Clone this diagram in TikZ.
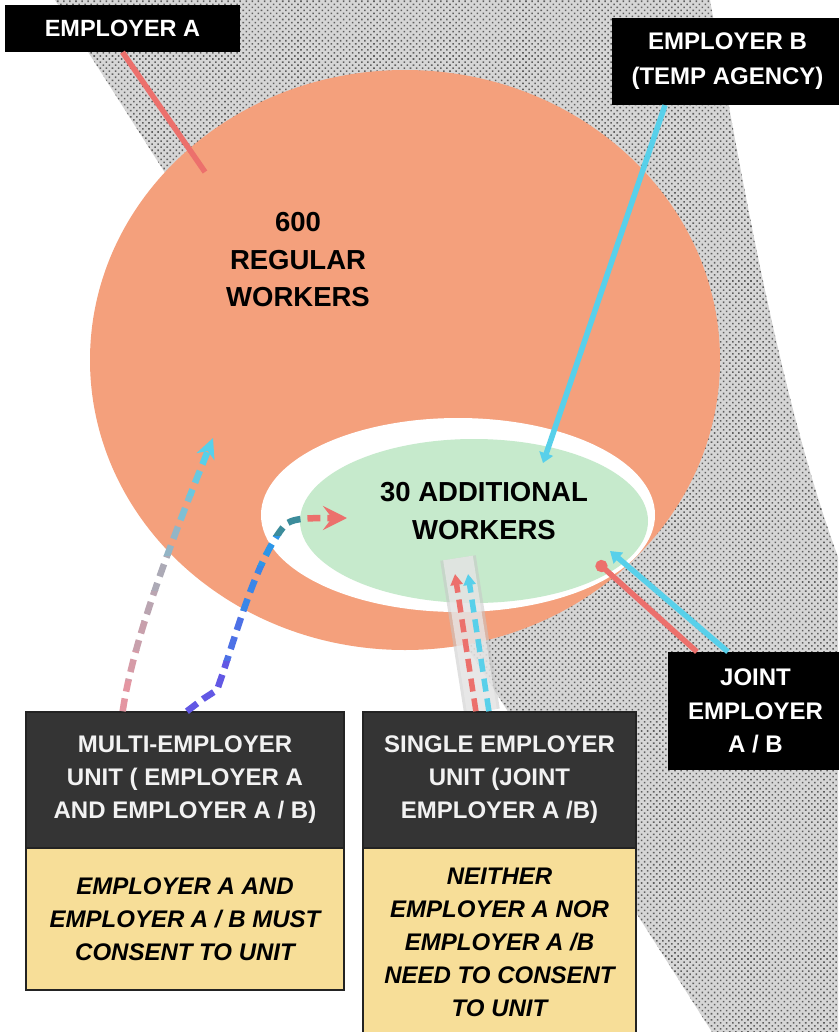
\documentclass[tikz,border=0pt]{standalone}
\usepackage{fontspec}
\setmainfont{Liberation Sans}
\usetikzlibrary{arrows.meta,patterns.meta,calc}
\definecolor{salmon}{RGB}{244,160,124}
\definecolor{mint}{RGB}{198,234,204}
\definecolor{coral}{RGB}{236,112,108}
\definecolor{sky}{RGB}{88,208,234}
\definecolor{darkhead}{RGB}{52,52,52}
\definecolor{boxline}{RGB}{35,35,35}
\definecolor{cream}{RGB}{247,222,152}
\definecolor{offwhite}{RGB}{242,242,242}
\definecolor{mpink}{RGB}{228,150,162}
\definecolor{mgray}{RGB}{172,170,182}
\definecolor{violet}{RGB}{98,88,228}
\definecolor{mblue}{RGB}{45,150,232}
\definecolor{mteal}{RGB}{60,140,155}
\definecolor{stipplebase}{RGB}{214,214,214}
\definecolor{stippledot}{RGB}{95,95,95}
\pgfdeclarelayer{bg}
\pgfsetlayers{bg,main}
\tikzset{
  blackbox/.style={fill=black, text=white, inner sep=0pt, align=center,
    font=\fontsize{24}{35}\selectfont\bfseries},
  headbox/.style={fill=darkhead, draw=boxline, line width=1.5pt, text=offwhite,
    inner sep=0pt, align=center, minimum height=136pt,
    font=\fontsize{24}{33}\selectfont\bfseries},
  bodybox/.style={fill=cream, draw=boxline, line width=1.5pt, text=black,
    inner sep=0pt, align=center,
    font=\fontsize{24}{33}\selectfont\bfseries\itshape},
  bigtext/.style={align=center, inner sep=0pt, text=black,
    font=\fontsize{27.5}{37.5}\selectfont\bfseries},
  solidln/.style={line width=5.5pt},
  dashln/.style={line width=6.5pt, dash pattern=on 13pt off 7pt},
  skytip/.style={-{Stealth[length=20pt,width=19pt,inset=6pt]}},
  pinktip/.style={-{Stealth[length=24pt,width=24pt,inset=9pt]}},
}
\begin{document}
\begin{tikzpicture}[x=1pt,y=-1pt]
\useasboundingbox (0,0) rectangle (838,1032);

% ---------- boxes (main layer) ----------
\node[blackbox, minimum width=235pt, minimum height=47pt,
  font=\fontsize{23.5}{30}\selectfont\bfseries] (empA) at (122.5,28.5) {EMPLOYER A};
\node[blackbox, minimum width=231pt, minimum height=87pt] (empB) at (727.5,61.5)
  {EMPLOYER B\\(TEMP AGENCY)};
\node[blackbox, minimum width=175pt, minimum height=118pt,
  font=\fontsize{24}{33.5}\selectfont\bfseries] (joint) at (755.5,711)
  {JOINT\\EMPLOYER\\A / B};

\node[headbox, minimum width=318pt] (multihead) at (185,780)
  {MULTI-EMPLOYER\\UNIT ( EMPLOYER A\\AND EMPLOYER A / B)};
\node[bodybox, minimum width=318pt, minimum height=142pt] (multibody) at (185,919)
  {EMPLOYER A AND\\EMPLOYER A / B MUST\\CONSENT TO UNIT};
\node[headbox, minimum width=273pt] (singlehead) at (499.5,780)
  {SINGLE EMPLOYER\\UNIT (JOINT\\EMPLOYER A /B)};
\node[bodybox, minimum width=273pt, minimum height=188pt] (singlebody) at (499.5,942)
  {NEITHER\\EMPLOYER A NOR\\EMPLOYER A /B\\NEED TO CONSENT\\TO UNIT};

% ---------- background layer ----------
\begin{pgfonlayer}{bg}
  \fill[white] (0,0) rectangle (838,1032);
  \fill[stipplebase] (55,0) -- (710,0) .. controls (740,170) and (780,400) .. (838,557)
     -- (838,1032) -- (712,1032) -- cycle;
  \path[pattern={Dots[radius=1.1pt,distance=4.3pt,angle=45]}, pattern color=stippledot]
     (55,0) -- (710,0) .. controls (740,170) and (780,400) .. (838,557)
     -- (838,1032) -- (712,1032) -- cycle;
  \fill[salmon] (405,360) ellipse [x radius=315pt, y radius=290pt];
  \fill[white] (458,515) ellipse [x radius=197pt, y radius=97pt];
  \fill[mint] (474,521) ellipse [x radius=174pt, y radius=82pt];
  \node[bigtext] (regular) at (298,260) {600\\REGULAR\\WORKERS};
  \node[bigtext] (additional) at (484,511) {30 ADDITIONAL\\WORKERS};
  \coordinate (sBand) at (458,558);
  \draw[line width=36pt, black!22, opacity=0.55]
     ($(singlehead.north west)!0.436!(singlehead.north east)$) -- (sBand);
  \draw[line width=30pt, black!8, opacity=0.7]
     ($(singlehead.north west)!0.436!(singlehead.north east)$) -- (sBand);
\end{pgfonlayer}

% ---------- solid connectors ----------
\coordinate (aEnd) at (205,172);
\draw[solidln, coral] (empA.south) -- (aEnd);

\coordinate (bEnd) at (543,463);
\draw[solidln, sky, -{Triangle[length=10pt,width=14pt]}]
  ($(empB.south west)!0.23!(empB.south east)$) -- (bEnd);

\coordinate (jRed) at (597,562);
\coordinate (jSky) at (610,551);
\draw[solidln, coral, -{Circle[length=12pt]}]
  ($(joint.north west)!0.166!(joint.north east)$) -- (jRed);
\draw[solidln, sky, -{Triangle[length=11pt,width=14pt]}]
  ($(joint.north west)!0.343!(joint.north east)$) -- (jSky);

% ---------- single employer dashed pair ----------
\coordinate (sRed) at (455,574);
\coordinate (sSky) at (468,574);
\draw[dashln, line width=5.5pt, coral, -{Triangle[length=11pt,width=12pt]}]
  ($(singlehead.north west)!0.414!(singlehead.north east)$) -- (sRed);
\draw[dashln, line width=5.5pt, sky, -{Triangle[length=11pt,width=12pt]}]
  ($(singlehead.north west)!0.4615!(singlehead.north east)$) -- (sSky);

% ---------- multi employer dashed curve 1 (pink -> gray -> sky) ----------
\coordinate (m1s) at ($(multihead.north west)!0.305!(multihead.north east)$);
\coordinate (m1e) at (213,438);
\foreach \ya/\yb/\col in {680/714/mpink, 650/680/mpink!75!mgray, 620/650/mpink!50!mgray,
    590/620/mpink!25!mgray, 555/590/mgray, 525/555/mgray!70!sky, 495/525/mgray!45!sky,
    465/495/mgray!20!sky, 420/465/sky}{
  \begin{scope}
    \clip (0,\ya) rectangle (838,\yb);
    \draw[dashln, color=\col, skytip] (m1s) .. controls (133,640) and (172,540) .. (m1e);
  \end{scope}
}

% ---------- multi employer dashed curve 2 (violet -> blue -> teal -> coral) ----------
\coordinate (m2s) at ($(multihead.north west)!0.506!(multihead.north east)$);
\coordinate (m2e) at (347,518);
\foreach \ya/\yb/\col in {660/714/violet, 610/660/violet!60!mblue, 565/610/violet!25!mblue,
    535/565/mblue, 495/535/mteal}{
  \begin{scope}
    \clip (0,\ya) rectangle (303,\yb);
    \draw[dashln, color=\col, pinktip] (m2s) -- (203,699) -- (217,690)
      .. controls (235,640) and (255,560) .. (285,525)
      .. controls (292,519) and (300,518) .. (m2e);
  \end{scope}
}
\begin{scope}
  \clip (303,480) rectangle (400,560);
  \draw[dashln, color=coral, pinktip] (m2s) -- (203,699) -- (217,690)
    .. controls (235,640) and (255,560) .. (285,525)
    .. controls (292,519) and (300,518) .. (m2e);
\end{scope}
\end{tikzpicture}
\end{document}
